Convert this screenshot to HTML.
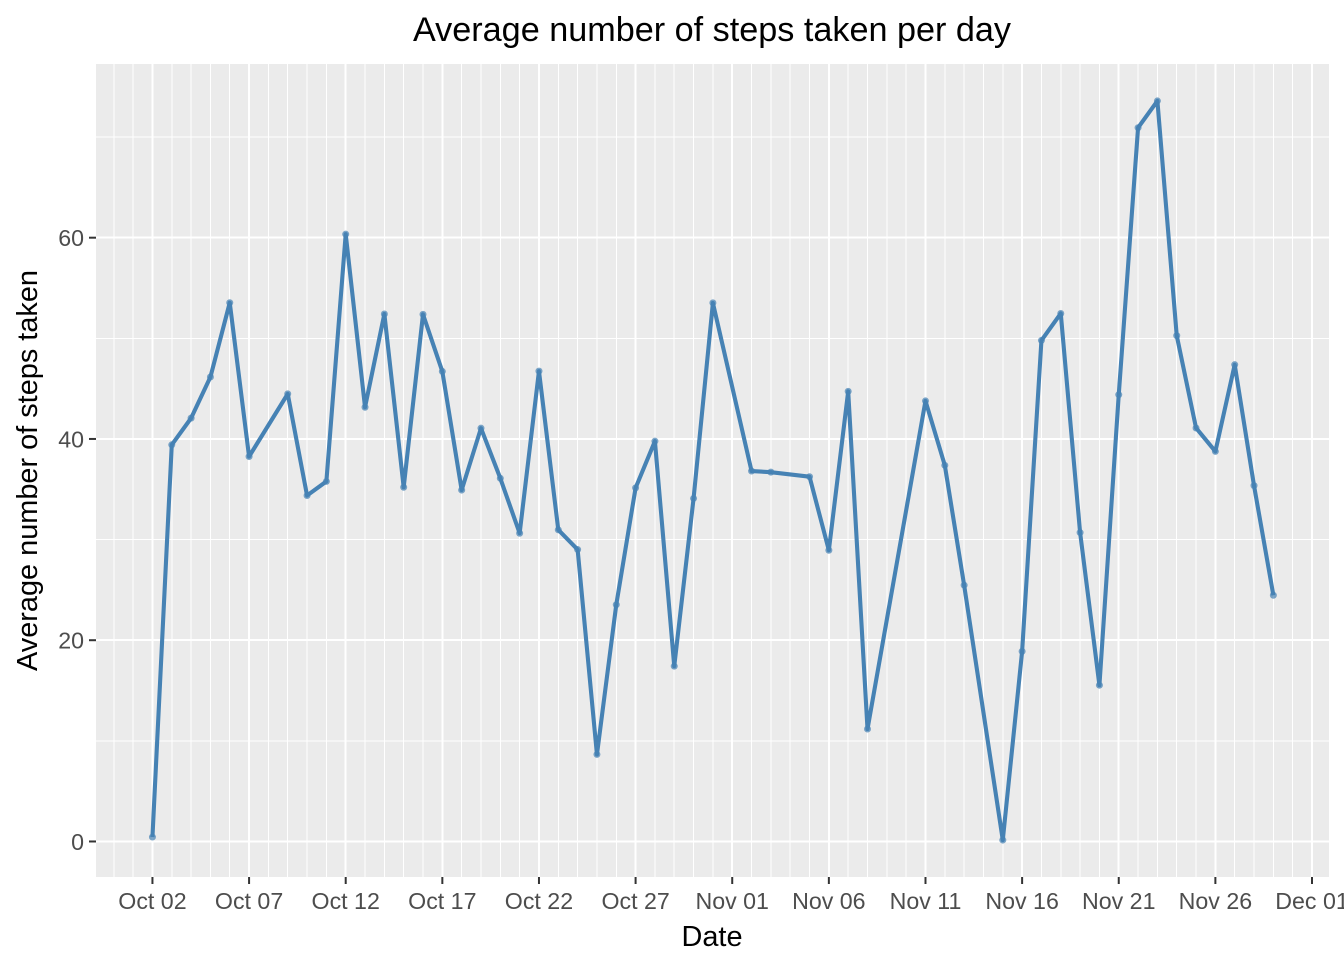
<!DOCTYPE html>
<html lang="en">
<head>
<meta charset="utf-8">
<title>Average number of steps taken per day</title>
<style>
html,body{margin:0;padding:0;background:#fff;width:1344px;height:960px;overflow:hidden}
svg{display:block;font-family:"Liberation Sans",Arial,sans-serif}
</style>
</head>
<body>
<svg id="chart" width="1344" height="960" viewBox="0 0 1344 960" xmlns="http://www.w3.org/2000/svg">
  <rect x="96" y="64" width="1233" height="813" fill="#EBEBEB"/>
  <g id="grid-minor" shape-rendering="crispEdges"></g>
  <g id="grid-major" shape-rendering="crispEdges"></g>
  <g id="points"></g>
  <g id="line"></g>
  <g id="x-axis"></g>
  <g id="y-axis"></g>
  <text x="712" y="41" text-anchor="middle" font-size="34.2" fill="#000">Average number of steps taken per day</text>
  <text x="712" y="946" text-anchor="middle" font-size="28.9" fill="#000">Date</text>
  <text transform="translate(37 470.5) rotate(-90)" text-anchor="middle" font-size="28.9" fill="#000">Average number of steps taken</text>
</svg>
<script>
const dates = ["2012-10-02","2012-10-03","2012-10-04","2012-10-05","2012-10-06","2012-10-07","2012-10-09","2012-10-10","2012-10-11","2012-10-12","2012-10-13","2012-10-14","2012-10-15","2012-10-16","2012-10-17","2012-10-18","2012-10-19","2012-10-20","2012-10-21","2012-10-22","2012-10-23","2012-10-24","2012-10-25","2012-10-26","2012-10-27","2012-10-28","2012-10-29","2012-10-30","2012-10-31","2012-11-02","2012-11-03","2012-11-05","2012-11-06","2012-11-07","2012-11-08","2012-11-11","2012-11-12","2012-11-13","2012-11-15","2012-11-16","2012-11-17","2012-11-18","2012-11-19","2012-11-20","2012-11-21","2012-11-22","2012-11-23","2012-11-24","2012-11-25","2012-11-26","2012-11-27","2012-11-28","2012-11-29"];
const meanSteps = [0.44,39.42,42.07,46.16,53.54,38.25,44.48,34.38,35.78,60.35,43.15,52.42,35.20,52.38,46.71,34.92,41.07,36.09,30.63,46.74,30.97,29.01,8.65,23.53,35.14,39.78,17.42,34.09,53.52,36.81,36.70,36.25,28.94,44.73,11.18,43.78,37.38,25.47,0.14,18.89,49.79,52.47,30.70,15.53,44.40,70.93,73.59,50.27,41.09,38.76,47.38,35.36,24.47];
const xTickDates = ["2012-10-02","2012-10-07","2012-10-12","2012-10-17","2012-10-22","2012-10-27","2012-11-01","2012-11-06","2012-11-11","2012-11-16","2012-11-21","2012-11-26","2012-12-01"];
const xTickLabels = ["Oct 02","Oct 07","Oct 12","Oct 17","Oct 22","Oct 27","Nov 01","Nov 06","Nov 11","Nov 16","Nov 21","Nov 26","Dec 01"];
const yTicks = [0,20,40,60];
const yMinorTicks = [10,30,50,70];
const xDomain = ["2012-09-29","2012-12-02"];

const NS = "http://www.w3.org/2000/svg";
const panel = {left:96, right:1329, top:64, bottom:877};
const DAY = 86400000;
const dayNum = s => Date.parse(s + "T00:00:00Z") / DAY;
const xStart = dayNum("2012-10-02") - 2.9;
const xEnd = dayNum("2012-11-29") + 2.9;
const yStart = -3.53;
const yEnd = 77.26;
const xScale = s => panel.left + 0.4 + (dayNum(s) - xStart) / (xEnd - xStart) * (panel.right - panel.left);
const yScale = v => panel.bottom - (v - yStart) / (yEnd - yStart) * (panel.bottom - panel.top);

function make(tag, attrs, parent){
  const el = document.createElementNS(NS, tag);
  for (const k in attrs) el.setAttribute(k, attrs[k]);
  parent.appendChild(el);
  return el;
}
const minorG = document.getElementById("grid-minor");
const majorG = document.getElementById("grid-major");
const xAxisG = document.getElementById("x-axis");
const yAxisG = document.getElementById("y-axis");
const pointsG = document.getElementById("points");
const lineG = document.getElementById("line");

// daily minor vertical gridlines
for (let d = dayNum(xDomain[0]) + 1; d < dayNum(xDomain[1]); d++) {
  const iso = new Date(d * DAY).toISOString().slice(0, 10);
  const x = xScale(iso);
  const el = make("line", {x1:x, x2:x, y1:panel.top, y2:panel.bottom, stroke:"#fff", "stroke-width":1}, minorG);
  
  
}
yMinorTicks.forEach(v => {
  const y = yScale(v);
  const el = make("line", {x1:panel.left, x2:panel.right, y1:y, y2:y, stroke:"#fff", "stroke-width":1}, minorG);
  
  
});
xTickDates.forEach((s, i) => {
  const x = xScale(s);
  const grid = make("line", {x1:x, x2:x, y1:panel.top, y2:panel.bottom, stroke:"#fff", "stroke-width":2}, majorG);
  
  
  const tick = make("line", {x1:x, x2:x, y1:panel.bottom, y2:panel.bottom + 7, stroke:"#333", "stroke-width":2}, xAxisG);
  
  
  const label = make("text", {x:x, y:909, "text-anchor":"middle", "font-size":23.2, fill:"#4D4D4D"}, xAxisG);
  
  
  label.textContent = xTickLabels[i];
});
yTicks.forEach(v => {
  const y = yScale(v);
  const grid = make("line", {x1:panel.left, x2:panel.right, y1:y, y2:y, stroke:"#fff", "stroke-width":2}, majorG);
  
  
  const tick = make("line", {x1:panel.left - 7, x2:panel.left, y1:y, y2:y, stroke:"#333", "stroke-width":2}, yAxisG);
  
  
  const label = make("text", {x:panel.left - 12, y:y + 8.5, "text-anchor":"end", "font-size":23.2, fill:"#4D4D4D"}, yAxisG);
  
  
  label.textContent = v;
});
const path = make("polyline", {points:dates.map((s, i) => xScale(s) + "," + yScale(meanSteps[i])).join(" "), fill:"none", stroke:"#4682B4", "stroke-width":4.1, "stroke-linejoin":"round", "stroke-linecap":"butt"}, lineG);


dates.forEach((s, i) => {
  const c = make("circle", {cx:xScale(s), cy:yScale(meanSteps[i]), r:3.5, fill:"#4682B4", "fill-opacity":0.7}, pointsG);
  
  
});
</script>
</body>
</html>
